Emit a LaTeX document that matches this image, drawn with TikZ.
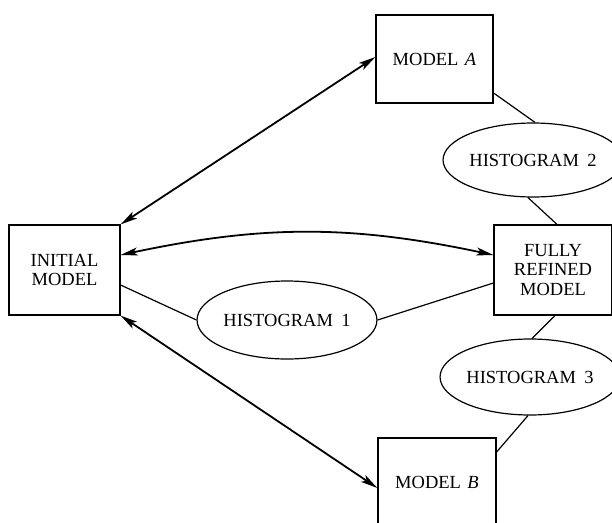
\documentclass[tikz,border=0pt]{standalone}
\usepackage{fontspec}
\setmainfont{Liberation Serif}
\usetikzlibrary{shapes.geometric,arrows.meta}
\tikzset{
  box/.style={draw, line width=1.2pt, rectangle, inner sep=0pt, align=center,
    font=\fontsize{18.5}{19.5}\selectfont},
  hist/.style={draw, line width=1.2pt, ellipse, inner sep=0pt,
    font=\fontsize{18.5}{20}\selectfont},
  link/.style={line width=1.2pt},
  twoway/.style={line width=1.8pt, {Stealth[length=17pt,width=8pt,inset=4pt]}-{Stealth[length=17pt,width=8pt,inset=4pt]}}
}
\begin{document}
\begin{tikzpicture}[x=1pt,y=-1pt]
\useasboundingbox (0,0) rectangle (612,522);
\node[box, minimum width=117pt, minimum height=88pt] (A) at (434.5,59) {MODEL\hspace{0.35em}\textit{A}};
\node[hist, minimum width=158pt, minimum height=74pt] (H2) at (533,160) {HISTOGRAM\hspace{0.45em}2};
\node[box, minimum width=118pt, minimum height=90pt] (F) at (553,270) {FULLY\\REFINED\\MODEL};
\node[box, minimum width=111pt, minimum height=90pt] (I) at (64.5,270) {INITIAL\\MODEL};
\node[hist, minimum width=150pt, minimum height=78pt] (H1) at (287,320) {HISTOGRAM\hspace{0.45em}1};
\node[hist, minimum width=154pt, minimum height=76pt] (H3) at (530,377) {HISTOGRAM\hspace{0.45em}3};
\node[box, minimum width=118pt, minimum height=88pt] (B) at (437,482) {MODEL\hspace{0.35em}\textit{B}};

\draw[twoway] (I.north east) -- ([yshift=2pt]A.west);
\draw[twoway] (I.south east) -- ([yshift=-6pt]B.west);
\draw[twoway] ([yshift=15pt]I.east) to[bend left=12] ([yshift=15pt]F.west);
\draw[link] ([yshift=-15pt]I.east) -- (H1.west);
\draw[link] (H1.east) -- ([yshift=-13pt]F.west);
\draw[link] ([yshift=-34pt]A.east) -- ([xshift=2pt]H2.north);
\draw[link] ([xshift=-5pt]H2.south) -- ([xshift=4pt]F.north);
\draw[link] ([xshift=2pt]F.south) -- ([xshift=2pt]H3.north);
\draw[link] ([xshift=-2pt]H3.south) -- ([yshift=30pt]B.east);
\end{tikzpicture}
\end{document}
